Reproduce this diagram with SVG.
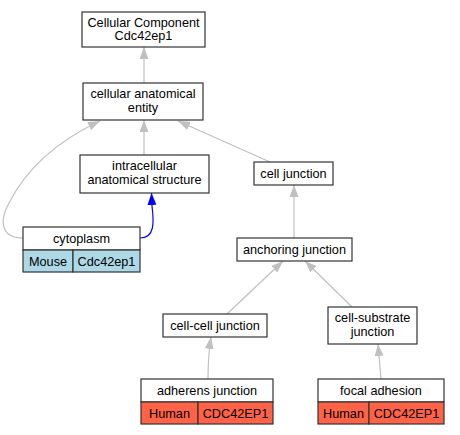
<svg xmlns="http://www.w3.org/2000/svg" width="460" height="435" viewBox="0 0 460 435">
<defs>
<marker id="ag" viewBox="0 0 12 9" refX="12" refY="4.5" markerWidth="12" markerHeight="9" markerUnits="userSpaceOnUse" orient="auto"><path d="M0,0 L12,4.5 L0,9 Z" fill="#c0c0c0"/></marker>
<marker id="ab" viewBox="0 0 12 9" refX="12" refY="4.5" markerWidth="12" markerHeight="9" markerUnits="userSpaceOnUse" orient="auto"><path d="M0,0 L12,4.5 L0,9 Z" fill="#0000ff"/></marker>
<style>
text{font-family:"Liberation Sans",Arial,sans-serif;font-size:12.7px;fill:#000;text-anchor:middle}
.n{fill:#fff;stroke:#333;stroke-width:1.2}
.b{fill:#add8e6;stroke:#333;stroke-width:1.2}
.r{fill:#ff6347;stroke:#333;stroke-width:1.2}
.e{fill:none;stroke:#c0c0c0;stroke-width:1.2;marker-end:url(#ag)}
.eb{fill:none;stroke:#0000ff;stroke-width:1.2;marker-end:url(#ab)}
</style>
</defs>
<rect width="460" height="435" fill="#fff"/>
<g id="edges">
<path class="e" d="M144,83 L144,47"/>
<path class="e" d="M144,155 L144,120"/>
<path class="e" d="M270,162 L178,121"/>
<path class="e" d="M23,238 C0,238 0,220 8,205 C30,160 70,135 100,121"/>
<path class="eb" d="M140,238 C155,238 154,222 152,206 L151.5,193"/>
<path class="e" d="M294,238 L294,185"/>
<path class="e" d="M227,314 L283,261"/>
<path class="e" d="M352,307 L305,261"/>
<path class="e" d="M208,379 C208,365 209,350 211,337"/>
<path class="e" d="M381,379 C380,368 379,355 378,344"/>
</g>
<g id="n_cc"><rect class="n" x="82" y="12" width="123" height="35"/><text x="143.5" y="26.5">Cellular Component</text><text x="143.5" y="40">Cdc42ep1</text></g>
<g id="n_cae"><rect class="n" x="83" y="83" width="120" height="37"/><text x="143" y="98">cellular anatomical</text><text x="143" y="112">entity</text></g>
<g id="n_ias"><rect class="n" x="80" y="155" width="129" height="38"/><text x="144.5" y="170">intracellular</text><text x="144.5" y="184">anatomical structure</text></g>
<g id="n_cyto"><rect class="n" x="23" y="227" width="117" height="23"/><rect class="b" x="23" y="250" width="50" height="22"/><rect class="b" x="73" y="250" width="67" height="22"/><text x="81.5" y="243">cytoplasm</text><text x="48" y="265.5">Mouse</text><text x="106.5" y="265.5">Cdc42ep1</text></g>
<g id="n_cj"><rect class="n" x="254" y="162" width="79" height="23"/><text x="293.5" y="178">cell junction</text></g>
<g id="n_aj"><rect class="n" x="237" y="238" width="115" height="23"/><text x="294.5" y="254">anchoring junction</text></g>
<g id="n_ccj"><rect class="n" x="163" y="314" width="104" height="23"/><text x="215" y="330">cell-cell junction</text></g>
<g id="n_csj"><rect class="n" x="328" y="307" width="89" height="37"/><text x="372.5" y="322">cell-substrate</text><text x="372.5" y="336">junction</text></g>
<g id="n_aj2"><rect class="n" x="141" y="379" width="132" height="23"/><rect class="r" x="141" y="402" width="57" height="22"/><rect class="r" x="198" y="402" width="75" height="22"/><text x="207" y="395">adherens junction</text><text x="169.5" y="417.5">Human</text><text x="235.5" y="417.5">CDC42EP1</text></g>
<g id="n_fa"><rect class="n" x="318" y="379" width="126" height="23"/><rect class="r" x="318" y="402" width="51" height="22"/><rect class="r" x="369" y="402" width="75" height="22"/><text x="381" y="395">focal adhesion</text><text x="343.5" y="417.5">Human</text><text x="406.5" y="417.5">CDC42EP1</text></g>
</svg>
